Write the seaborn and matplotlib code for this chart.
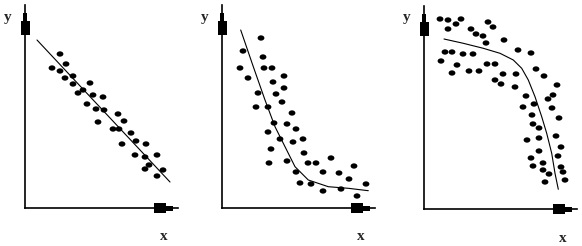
import matplotlib
matplotlib.use("Agg")
import matplotlib.pyplot as plt
import seaborn as sns
import pandas as pd
from matplotlib.patches import Rectangle
from matplotlib.path import Path
from matplotlib.transforms import Affine2D

sns.set_style("white")
plt.rcParams['font.family'] = ['Liberation Serif', 'DejaVu Serif']

# ---- Panel 1: linear negative relationship ----
p1_x = [27, 35, 41, 35, 40, 48, 48, 53, 58, 65, 68, 78, 62, 71, 79, 73, 93, 99, 88, 94,
        106, 111, 97, 121, 110, 120, 132, 124, 120, 138, 132]
p1_y = [140, 154, 144, 137, 130, 132, 124, 115, 118, 125, 113, 111, 104, 99, 98, 86, 94, 87, 79, 79,
        75, 67, 64, 64, 53, 51, 53, 43, 39, 38, 32]
p1_line_x = [12, 145]
p1_line_y = [168, 26]

# ---- Panel 2: decreasing curve levelling off ----
p2_x = [39, 21, 41, 18, 42, 50, 26, 62, 51, 36, 54, 62, 60, 34, 46, 70, 52, 65, 46, 74,
        58, 71, 81, 49, 82, 47, 65, 86, 94, 109, 74, 101, 117, 132, 127, 78, 89, 101, 119, 144, 135]
p2_y = [170, 157, 151, 140, 140, 140, 130, 132, 126, 115, 114, 120, 106, 101, 101, 95, 85, 84, 76, 79,
        69, 66, 69, 59, 55, 45, 47, 45, 45, 50, 36, 36, 35, 42, 29, 25, 24, 17, 19, 24, 12]
p2_curve_x = [18.7, 31.3, 43, 53, 63, 73, 86.3, 106.3, 126.3, 146.3]
p2_curve_y = [178, 141.3, 108, 81.3, 61.3, 41.3, 28, 21.3, 19.7, 17.3]

# ---- Panel 3: flat then dropping steeply ----
p3_x = [16, 24, 37, 32, 24, 64, 69, 47, 52, 59, 62, 80, 21, 28, 39, 49, 17, 33, 28, 45,
        55, 63, 71, 79, 71, 77, 92, 91, 94, 107, 112, 120, 102, 99, 110, 124, 129, 133, 128, 135,
        108, 109, 115, 103, 115, 132, 137, 115, 134, 107, 119, 109, 137, 119, 125, 121, 139, 141]
p3_y = [190, 189, 190, 185, 180, 187, 182, 180, 175, 173, 166, 169, 157, 157, 155, 155, 148, 144, 136, 138,
        138, 145, 145, 135, 129, 125, 135, 122, 159, 156, 140, 133, 113, 102, 105, 110, 114, 124, 101, 91,
        94, 85, 81, 69, 71, 73, 62, 58, 53, 51, 46, 43, 42, 39, 35, 27, 37, 29]
p3_curve_x = [20, 39.3, 59.3, 76, 89.3, 97.7, 104.3, 111, 117.7, 122.7, 127.7, 131, 134.3]
p3_curve_y = [170, 165.7, 160.7, 155.7, 149, 140.7, 129, 112.3, 92.3, 75.7, 55.7, 35.7, 19.7]

panels = [
    (p1_x, p1_y, p1_line_x, p1_line_y),
    (p2_x, p2_y, p2_curve_x, p2_curve_y),
    (p3_x, p3_y, p3_curve_x, p3_curve_y),
]

FW, FH = 582, 246
fig = plt.figure(figsize=(FW / 100, FH / 100), dpi=100)
fig.patch.set_facecolor("white")

origins = [(25, 208), (222, 208), (424, 209)]
AW, AH = 153, 203

# slightly flattened dot marker
ellipse = Path.unit_circle().transformed(Affine2D().scale(1.15, 0.9))

for (px, py, cx, cy), (ox, oy) in zip(panels, origins):
    ax = fig.add_axes([ox / FW, (FH - oy) / FH, AW / FW, AH / FH])
    ax.set_facecolor("none")
    pts = pd.DataFrame({"x": px, "y": py})
    crv = pd.DataFrame({"x": cx, "y": cy})
    sns.lineplot(data=crv, x="x", y="y", ax=ax, color="black", lw=0.8,
                 sort=False, estimator=None)
    sns.scatterplot(data=pts, x="x", y="y", ax=ax, color="black", s=24,
                    edgecolor="none", marker=ellipse, clip_on=False)
    ax.set_xlim(0, AW)
    ax.set_ylim(0, AH)
    ax.set_xticks([])
    ax.set_yticks([])
    ax.set_xlabel("")
    ax.set_ylabel("")
    for s in ["top", "right"]:
        ax.spines[s].set_visible(False)
    for s in ["left", "bottom"]:
        ax.spines[s].set_linewidth(1.2)
        ax.spines[s].set_color("black")
    # arrow decorations (feather blocks)
    ax.add_patch(Rectangle((-4.5, 173), 9, 14, color="black", clip_on=False, lw=0))
    ax.add_patch(Rectangle((-2, 187), 4, 8, color="black", clip_on=False, lw=0))
    ax.add_patch(Rectangle((129, -5), 12, 10, color="black", clip_on=False, lw=0))
    ax.add_patch(Rectangle((141, -2.5), 7, 5, color="black", clip_on=False, lw=0))
    ax.text(-17, 191, "y", fontsize=11, fontweight="bold", ha="center", va="center")
    ax.text(139, -29, "x", fontsize=11, fontweight="bold", ha="center", va="center")

fig.savefig("out.png", dpi=100, facecolor="white")
